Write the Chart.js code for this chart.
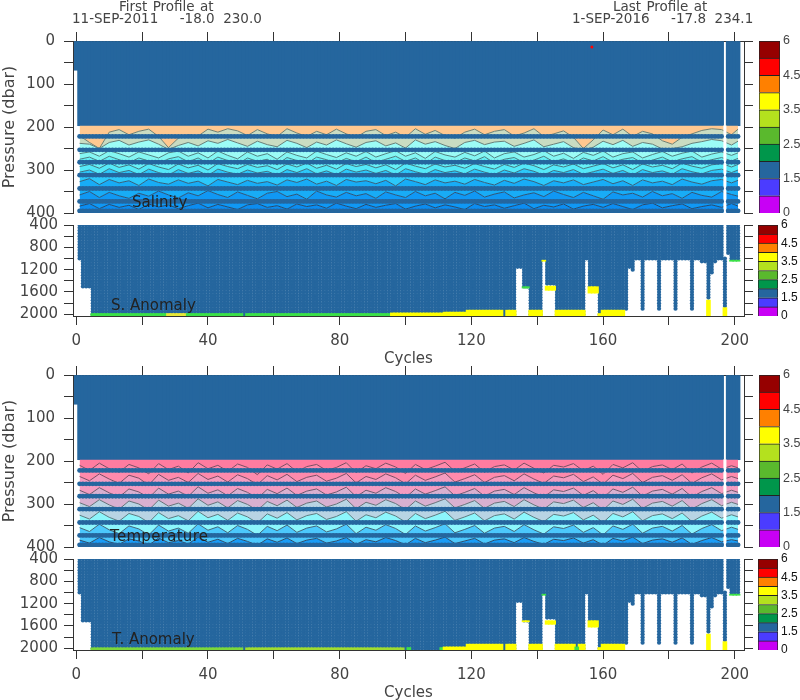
<!DOCTYPE html>
<html>
<head>
<meta charset="utf-8">
<title>Float profiles</title>
<script src="https://cdn.jsdelivr.net/npm/chart.js@4"></script>
<style>
html, body { margin: 0; background: #fff; }
#page { position: relative; width: 800px; height: 700px; overflow: hidden; font-family: "DejaVu Sans", sans-serif; color: #444; filter: blur(0.4px); }
#page canvas { position: absolute; }
.note { position: absolute; white-space: pre; line-height: 1; }
.name { color: #222; font-size: 15px; }
.head { font-size: 13.5px; }
</style>
</head>
<body>
<div id="page">
  <canvas id="salinity" width="760" height="212" style="left:0;top:11px"></canvas>
  <canvas id="sAnomaly" width="760" height="163" style="left:0;top:205px"></canvas>
  <canvas id="temperature" width="760" height="212" style="left:0;top:345px"></canvas>
  <canvas id="tAnomaly" width="760" height="163" style="left:0;top:539px"></canvas>
  <canvas id="bar1" width="45" height="202" style="left:755px;top:26px"></canvas>
  <canvas id="bar2" width="45" height="121" style="left:755px;top:210px"></canvas>
  <canvas id="bar3" width="45" height="202" style="left:755px;top:360px"></canvas>
  <canvas id="bar4" width="45" height="121" style="left:755px;top:544px"></canvas>
  <div class="note head" style="left:119px;top:0px;word-spacing:1px">First Profile at</div>
  <div class="note head" style="left:72px;top:12px">11-SEP-2011     -18.0  230.0</div>
  <div class="note head" style="left:613px;top:0px;word-spacing:1px">Last Profile at</div>
  <div class="note head" style="left:572px;top:12px">1-SEP-2016     -17.8  234.1</div>
  <div class="note name" style="left:132px;top:195px">Salinity</div>
  <div class="note name" style="left:111px;top:298px">S. Anomaly</div>
  <div class="note name" style="left:110px;top:529px;letter-spacing:.3px">Temperature</div>
  <div class="note name" style="left:112px;top:632px">T. Anomaly</div>
</div>
<script>
// ---- data ----
const lastCycle = 201;
const missingCycles = [197];
const xTicks = [0, 20, 40, 60, 80, 100, 120, 140, 160, 180, 200];
const upperTicks = [0, 50, 100, 150, 200, 250, 300, 350, 400];
const lowerTicks = [400, 600, 800, 1000, 1200, 1400, 1600, 1800, 2000];
const barLabels = ['0', '1.5', '2.5', '3.5', '4.5', '6'];
const barColors = ['#c800f5', '#4b3cff', '#25669e', '#00964b', '#5ab92d', '#b4e11e', '#ffff00', '#ff8000', '#ff0000', '#960000'];

const blue = '#25669e';
const green = '#3ce048';
const yellow = '#ffff00';

// depth of the first, shallow only profile and the blue top layer
const firstProfileDepth = 68;
const topLayerDepth = 197;
// rows of flagged levels across the upper panels (dbar)
const blueRows = [222, 253, 282, 312, 343, 373, 395];
const redFlag = { x: 156.6, y: 14 };

const contourCycles = [1,4,7,10,13,16,19,22,25,28,31,34,37,40,43,46,49,52,55,58,61,64,67,70,73,76,79,82,85,88,91,94,97,100,
  103,106,109,112,115,118,121,124,127,130,133,136,139,142,145,148,151,154,157,160,163,166,169,172,175,178,181,184,187,190,193,196,199,201];

const salinityLines = [
  [220,236,250,212,206,218,210,205,222,248,226,218,221,205,212,204,209,220,206,216,222,204,214,222,210,218,205,216,224,210,206,220,212,224,204,217,208,220,226,212,205,218,210,206,221,214,204,222,216,209,224,250,230,207,218,205,222,210,216,232,240,224,216,208,204,206,218,205],
  [238,240,250,236,231,242,235,230,240,252,243,236,244,232,238,229,237,245,233,241,246,231,238,248,235,242,230,239,247,236,232,244,237,249,230,240,234,243,250,236,231,241,235,233,245,238,230,246,240,234,248,254,247,233,241,231,245,236,240,251,250,246,238,234,229,232,242,233],
  [262,258,268,255,262,270,258,265,272,260,256,268,260,272,256,266,274,258,268,262,275,258,266,272,256,264,271,260,268,257,270,262,255,268,260,273,257,265,270,259,267,256,272,262,258,270,264,255,268,261,273,259,266,256,270,262,258,272,264,257,268,261,256,270,263,258,266,260],
  [275,270,280,268,276,283,272,279,286,274,269,281,272,285,270,278,287,272,280,275,288,271,278,285,270,276,284,273,281,270,283,275,268,280,272,286,270,278,283,272,279,269,284,275,271,283,277,268,281,274,285,272,279,269,282,275,271,284,277,270,281,274,269,282,276,271,279,273],
  [292,287,296,284,294,288,298,285,293,299,286,295,289,300,285,292,297,287,294,290,299,286,293,284,296,289,298,285,292,287,295,288,299,284,291,297,286,293,289,296,285,292,298,287,294,284,290,299,288,293,286,297,291,285,295,288,299,286,293,289,297,284,291,296,288,285,293,287],
  [305,300,310,297,306,301,311,298,306,312,299,308,302,313,298,305,310,300,307,303,312,299,306,297,309,302,311,298,305,300,308,301,312,297,304,310,299,306,302,309,298,305,311,300,307,297,303,312,301,306,299,310,304,298,308,301,312,299,306,302,310,297,304,309,301,298,306,300],
  [327,320,334,322,330,325,336,321,329,333,323,331,326,337,322,328,334,324,331,327,335,323,329,321,333,326,336,322,328,325,332,324,337,321,327,334,323,330,326,333,322,329,335,324,331,321,327,336,325,330,323,334,328,322,332,325,336,323,330,326,334,321,328,333,325,322,330,324],
  [358,350,364,352,360,366,354,361,349,358,365,353,360,348,357,364,351,359,367,354,350,362,356,368,349,358,363,352,360,355,366,351,358,364,350,360,354,367,352,359,349,363,356,351,365,358,353,362,349,357,364,352,360,368,351,358,354,363,350,360,355,366,352,359,363,350,357,361],
  [384,378,390,380,387,382,392,379,386,381,390,383,377,388,380,386,392,381,378,387,383,391,379,385,381,389,377,384,390,380,387,382,378,391,384,379,388,381,386,392,378,385,381,389,383,377,390,382,386,379,391,384,380,387,378,385,392,381,377,388,383,379,390,385,381,387,378,384]
];
const salinityBands = ['#ffc890', '#c9dcc2', '#9cfcf6', '#84f6f2', '#66f0f6', '#54e8f8', '#2cc8fa', '#18acf6', '#1098f4', '#0c8cf0'];
const salinityInk = ['#6f7f70', '#667f78', '#4f8080', '#4a7c80', '#3f7480', '#3c7084', '#33607c', '#2a5478', '#22486e'];

const temperatureLines = [
  [210,222,205,218,226,208,216,230,206,220,212,228,204,218,210,224,207,215,232,209,219,206,225,213,208,222,215,204,227,211,218,205,214,229,208,220,212,203,224,216,207,226,213,209,221,205,217,228,210,214,206,223,212,231,208,216,204,225,213,209,220,207,228,214,205,219,211,216],
  [236,246,230,242,252,233,240,256,231,245,238,250,229,243,235,249,232,241,255,234,244,231,248,238,233,247,240,229,251,236,243,230,239,253,233,245,237,228,249,241,232,250,238,234,246,230,242,252,235,239,231,248,237,254,233,241,229,250,238,234,245,232,252,239,230,244,236,241],
  [268,278,262,274,284,265,272,286,263,277,270,282,260,275,267,281,264,273,287,266,276,263,280,270,265,279,272,261,283,268,275,262,271,285,265,277,269,260,281,273,264,282,270,266,278,262,274,284,267,271,263,280,269,286,265,273,261,282,270,266,277,264,284,271,262,276,268,273],
  [297,306,290,302,312,293,300,314,291,305,298,310,288,303,295,309,292,301,315,294,304,291,308,298,293,307,300,289,311,296,303,290,299,313,293,305,297,288,309,301,292,310,298,294,306,290,302,312,295,299,291,308,297,314,293,301,289,310,298,294,305,292,312,299,290,304,296,301],
  [326,335,318,331,340,322,329,343,320,334,327,339,317,332,324,338,321,330,344,323,333,320,337,327,322,336,329,318,340,325,332,319,328,342,322,334,326,317,338,330,321,339,327,323,335,319,331,341,324,328,320,337,326,343,322,330,318,339,327,323,334,321,341,328,319,333,325,330],
  [355,364,347,360,369,351,358,372,349,363,356,368,346,361,353,367,350,359,373,352,362,349,366,356,351,365,358,347,369,354,361,348,357,371,351,363,355,346,367,359,350,368,356,352,364,348,360,370,353,357,349,366,355,372,351,359,347,368,356,352,363,350,370,357,348,362,354,359],
  [384,391,378,388,394,381,386,396,379,390,385,393,377,389,382,392,380,387,396,381,389,379,392,384,380,391,386,378,394,383,388,378,385,395,380,390,384,377,392,386,380,393,384,381,390,378,387,394,382,385,379,391,383,396,380,386,377,392,384,381,389,379,394,385,378,388,383,386]
];
const temperatureBands = ['#ff7ca0', '#ff8aac', '#f49cc0', '#d8b0d0', '#b8d4e4', '#8cf6fc', '#4cc8fc', '#1a9cf6'];
const temperatureInk = ['#7a4a60', '#7a4a62', '#70566c', '#667078', '#5a7a80', '#3f6478', '#2a4c6c'];

// columns of the lower panels: first cycle, last cycle, shallowest and deepest blue level
const columnFrom = [1, 2, 5, 134, 136, 138, 142, 143, 146, 155, 156, 159, 167, 168, 169, 170, 172, 173, 177, 178, 182, 183, 187, 188, 190, 192, 193, 194, 195, 197, 198, 199];
const columnTo = [1, 4, 133, 135, 137, 141, 142, 145, 154, 155, 158, 166, 167, 168, 169, 171, 172, 176, 177, 181, 182, 186, 187, 189, 191, 192, 193, 194, 196, 197, 198, 201];
const columnTop = [400, 400, 400, 400, 400, 400, 400, 400, 400, 400, 400, 400, 400, 400, 400, 400, 400, 400, 400, 400, 400, 400, 400, 400, 400, 400, 400, 400, 400, 1000, 400, 400];
const columnBottom = [1030, 1505, 2000, 1150, 1505, 2000, 1030, 1495, 2000, 1030, 1505, 2000, 1925, 1150, 1207, 1030, 1910, 1030, 1910, 1030, 1910, 1030, 1910, 1030, 1085, 1745, 1260, 1085, 1030, 1880, 900, 1030];
const levelStep = 50;

// coloured patches of the lower panels: from, to, top, bottom, colour
const sPatches = [
  [5, 27, 1985, 2030, green], [28, 33, 1985, 2030, '#e8e838'], [34, 50, 1985, 2030, green], [52, 95, 1985, 2030, green],
  [96, 111, 1975, 2030, yellow], [112, 118, 1960, 2030, yellow], [119, 129, 1925, 2030, yellow], [131, 133, 1925, 2030, yellow],
  [136, 137, 1505, 1530, green], [138, 141, 1925, 2030, yellow], [143, 145, 1495, 1570, yellow], [146, 154, 1925, 2030, yellow],
  [156, 158, 1505, 1620, yellow], [159, 159, 1985, 2030, yellow], [160, 166, 1925, 2030, yellow], [192, 192, 1745, 2030, yellow],
  [197, 197, 1880, 2030, yellow], [199, 201, 1030, 1050, green], [142, 142, 1030, 1050, yellow]
];
const tPatches = [
  [5, 50, 1990, 2030, '#7cd83c'], [52, 99, 1990, 2030, '#a0dc30'], [101, 101, 1985, 2030, green], [111, 111, 1985, 2030, green],
  [112, 118, 1975, 2030, yellow], [119, 129, 1925, 2030, yellow], [131, 133, 1925, 2030, yellow], [136, 137, 1505, 1525, yellow],
  [138, 141, 1925, 2030, yellow], [142, 142, 1030, 1050, green], [143, 145, 1505, 1570, yellow], [146, 151, 1925, 2030, yellow],
  [153, 154, 1925, 2030, yellow], [152, 152, 1975, 2030, green], [156, 158, 1505, 1620, yellow], [159, 159, 1985, 2030, yellow],
  [160, 166, 1925, 2030, yellow], [192, 192, 1745, 2030, yellow], [197, 197, 1880, 2030, yellow], [199, 201, 1030, 1050, green]
];

// ---- chart helpers ----
const axisFont = { family: '"DejaVu Sans", sans-serif', size: 15 };
const titleFont = { family: '"DejaVu Sans", sans-serif', size: 16 };
const ink = '#444';

function axisStyle(values, labelled, showLabels, pad) {
  return {
    afterBuildTicks(scale) { scale.ticks = values.map(v => ({ value: v })); },
    offset: false,
    border: { color: '#333', width: 1 },
    grid: { offset: false, drawOnChartArea: false, tickLength: 9, tickColor: '#333', tickWidth: 1 },
    ticks: {
      display: showLabels, color: ink, font: axisFont, padding: pad, autoSkip: false, maxRotation: 0,
      callback: v => (labelled(v) ? String(v) : '')
    }
  };
}

function buildScales(yMin, yMax, yTicks, yLabelled, showBottom, showTop, yTitle, yPad) {
  // labels may hang past the plot edge, so the scales ask for no extra room
  const noOverhang = s => { s.paddingTop = 0; s.paddingBottom = 0; };
  const scales = {
    x: Object.assign(axisStyle(xTicks, v => v % 40 === 0, true, 7), {
      type: 'linear', position: 'bottom', min: -1, max: 202.8, display: showBottom,
      afterFit(s) { s.height = showBottom ? 52 : 0; },
      title: { display: showBottom, text: 'Cycles', color: ink, font: axisFont, padding: 0 }
    }),
    y: Object.assign(axisStyle(yTicks, yLabelled, true, yPad), {
      type: 'linear', position: 'left', min: yMin, max: yMax, reverse: true,
      afterFit(s) { s.width = 73; noOverhang(s); },
      title: { display: !!yTitle, text: yTitle, color: ink, font: titleFont, padding: 0 }
    }),
    yRight: Object.assign(axisStyle(yTicks, () => false, false, 7), {
      type: 'linear', position: 'right', min: yMin, max: yMax, reverse: true,
      afterFit(s) { s.width = 16; noOverhang(s); }
    })
  };
  if (showTop) {
    scales.xTop = Object.assign(axisStyle(xTicks, () => false, false, 7), {
      type: 'linear', position: 'top', min: -1, max: 202.8,
      afterFit(s) { s.height = 30; }
    });
  }
  return scales;
}

function barLayer(points, color, thickness) {
  return {
    type: 'bar', data: points, backgroundColor: color, borderWidth: 0, grouped: false,
    barThickness: thickness || 4, xAxisID: 'x', yAxisID: 'y'
  };
}

function makeChart(id, datasets, scales, padding) {
  datasets.forEach((d, i) => { d.order = datasets.length - i; });
  return new Chart(document.getElementById(id), {
    type: 'scatter',
    data: { datasets },
    options: {
      responsive: false, animation: false, events: [],
      layout: { padding },
      plugins: { legend: { display: false }, tooltip: { enabled: false } },
      scales
    }
  });
}

function presentCycles() {
  const out = [];
  for (let c = 1; c <= lastCycle; c++) {
    if (!missingCycles.includes(c)) out.push(c);
  }
  return out;
}

function upperPanel(lines, bands, lineInk) {
  const cycles = presentCycles();
  const data = [];
  data.push(barLayer(cycles.map(c => ({ x: c, y: [0, topLayerDepth] })).concat([{ x: 0, y: [0, firstProfileDepth] }]), blue));

  // filled bands between neighbouring contours, top to bottom
  const edges = [contourCycles.map(() => topLayerDepth)].concat(lines, [contourCycles.map(() => 400)]);
  edges.forEach((edge, i) => {
    const isContour = i > 0 && i <= lines.length;
    data.push({
      type: 'line', xAxisID: 'x', yAxisID: 'y',
      data: edge.map((p, k) => ({ x: contourCycles[k], y: p })),
      borderColor: isContour ? lineInk[i - 1] : 'transparent',
      borderWidth: isContour ? 1 : 0,
      backgroundColor: bands[i] || 'transparent',
      fill: i < edges.length - 1 ? '+1' : false,
      pointRadius: 0, tension: 0
    });
  });

  missingCycles.forEach(c => data.push(barLayer([{ x: c, y: [topLayerDepth, 400] }], '#fff', 2.4)));

  // flagged rows: points joined by a line, broken where a cycle is missing
  const rowCycles = cycles.concat(missingCycles).sort((a, b) => a - b);
  blueRows.forEach(level => {
    data.push({
      type: 'scatter', xAxisID: 'x', yAxisID: 'y', showLine: true, spanGaps: false,
      data: rowCycles.map(c => ({ x: c, y: missingCycles.includes(c) ? null : level })),
      backgroundColor: blue, borderColor: blue, borderWidth: 3.6, pointBorderWidth: 0, pointRadius: 2.4, clip: 0
    });
  });
  return data;
}

function lowerPanel(patches) {
  const points = [];
  columnFrom.forEach((from, i) => {
    for (let c = from; c <= columnTo[i]; c++) {
      for (let p = 400; p <= 2000; p += levelStep) {
        if (p >= columnTop[i] && p <= columnBottom[i]) points.push({ x: c, y: p });
      }
    }
  });
  const data = [{
    type: 'scatter', xAxisID: 'x', yAxisID: 'y', data: points,
    backgroundColor: blue, borderWidth: 0, pointRadius: 2.1, clip: 0
  }];
  patches.forEach(([from, to, top, bottom, color]) => {
    const bars = [];
    for (let c = from; c <= to; c++) bars.push({ x: c, y: [top, bottom] });
    data.push(barLayer(bars, color));
  });
  return data;
}

function colourBar(id, left, width, font, color) {
  new Chart(document.getElementById(id), {
    type: 'bar',
    data: {
      labels: [''],
      datasets: barColors.map(c => ({
        data: [1], backgroundColor: c, borderColor: '#222', borderWidth: 1,
        barPercentage: 1, categoryPercentage: 1
      }))
    },
    options: {
      responsive: false, animation: false, events: [],
      layout: { padding: { left, top: 15, bottom: 15 } },
      plugins: { legend: { display: false }, tooltip: { enabled: false } },
      scales: {
        x: { stacked: true, display: false },
        y: {
          stacked: true, position: 'right', min: 0, max: 10,
          afterBuildTicks(s) { s.ticks = barLabels.map((_, i) => ({ value: i * 2 })); },
          afterFit(s) { s.width = 45 - left - width; },
          border: { display: false },
          grid: { display: false, drawTicks: false },
          ticks: { color, font, padding: 3, autoSkip: false, callback: v => barLabels[v / 2] }
        }
      }
    }
  });
}

// ---- draw ----
const hundreds = v => v % 100 === 0;
const fourHundreds = v => v % 400 === 0;

const salData = upperPanel(salinityLines, salinityBands, salinityInk);
salData.push({ type: 'scatter', xAxisID: 'x', yAxisID: 'y', data: [redFlag], backgroundColor: '#ff0000', borderWidth: 0, pointRadius: 1.5 });
makeChart('salinity', salData, buildScales(0, 400, upperTicks, hundreds, false, true, 'Pressure (dbar)', 9), { bottom: 10 });
makeChart('sAnomaly', lowerPanel(sPatches), buildScales(400, 2030, lowerTicks, fourHundreds, true, false, '', 6), { top: 20 });
makeChart('temperature', upperPanel(temperatureLines, temperatureBands, temperatureInk),
  buildScales(0, 400, upperTicks, hundreds, false, true, 'Pressure (dbar)', 9), { bottom: 10 });
makeChart('tAnomaly', lowerPanel(tPatches), buildScales(400, 2030, lowerTicks, fourHundreds, true, false, '', 6), { top: 20 });

const bigBarFont = { family: '"Liberation Sans", sans-serif', size: 12.5 };
const smallBarFont = { family: '"Liberation Sans", sans-serif', size: 12 };
colourBar('bar1', 4, 21, bigBarFont, ink);
colourBar('bar2', 3, 20, smallBarFont, '#111');
colourBar('bar3', 4, 21, bigBarFont, ink);
colourBar('bar4', 3, 20, smallBarFont, '#111');
</script>
</body>
</html>
